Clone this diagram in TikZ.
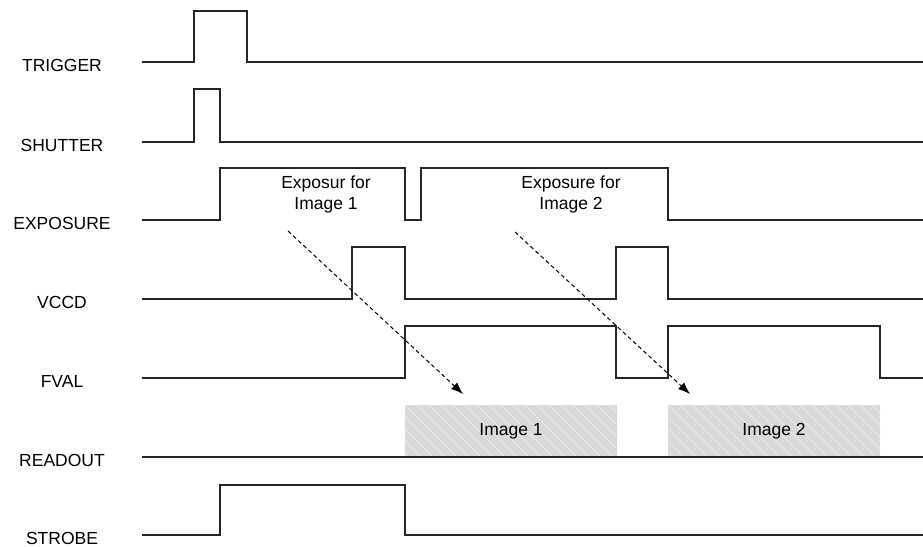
\documentclass[tikz,border=0pt]{standalone}
\usepackage{fontspec}
\setmainfont{Liberation Sans}
\usetikzlibrary{arrows.meta}
\definecolor{wave}{HTML}{262626}
\definecolor{boxfill}{HTML}{D9D9D9}
\definecolor{hatch}{HTML}{E9E9E9}
\begin{document}
\begin{tikzpicture}[x=1pt,y=-1pt,
  txt/.style={font=\fontsize{17.5}{21}\selectfont, text=black, inner sep=0pt},
  siglabel/.style={txt, anchor=base},
  wavepath/.style={draw=wave, line width=1.4pt, line join=miter},
  readbox/.style={fill=boxfill, draw=none},
  cause/.style={draw=black, line width=1pt, dash pattern=on 4pt off 3pt,
                -{Latex[length=12pt,width=9pt]}}]
\useasboundingbox (0,0) rectangle (923,546);

% signal names
\node[siglabel] (lTrig) at (62,71)  {TRIGGER};
\node[siglabel] (lShut) at (62,151) {SHUTTER};
\node[siglabel] (lExpo) at (62,229) {EXPOSURE};
\node[siglabel] (lVccd) at (62,308) {VCCD};
\node[siglabel] (lFval) at (62,387) {FVAL};
\node[siglabel] (lRead) at (62,466) {READOUT};
\node[siglabel] (lStrb) at (62,544) {STROBE};

% readout windows with faint hatching
\foreach \xa/\xb/\nm in {405/617/Image 1, 668/880/Image 2}{
  \fill[readbox] (\xa,405) rectangle (\xb,457);
  \begin{scope}
    \clip (\xa,405) rectangle (\xb,457);
    \foreach \k in {-60,-48,...,220}{
      \draw[hatch, line width=0.8pt] (\xa+\k,405) -- ++(52,52);
    }
  \end{scope}
}
\node[txt] (img1) at (511,431) {Image 1};
\node[txt] (img2) at (774,431) {Image 2};

% waveforms
\draw[wavepath] (142,62) -- (194,62) -- (194,11) -- (247,11) -- (247,62) -- (923,62);
\draw[wavepath] (142,142) -- (194,142) -- (194,89) -- (220,89) -- (220,142) -- (923,142);
\draw[wavepath] (142,220) -- (220,220) -- (220,168) -- (405,168) -- (405,220)
  -- (421,220) -- (421,168) -- (668,168) -- (668,220) -- (923,220);
\draw[wavepath] (142,299) -- (352,299) -- (352,247) -- (405,247) -- (405,299)
  -- (616,299) -- (616,247) -- (668,247) -- (668,299) -- (923,299);
\draw[wavepath] (142,378) -- (405,378) -- (405,326) -- (616,326) -- (616,378)
  -- (668,378) -- (668,326) -- (880,326) -- (880,378) -- (923,378);
\draw[wavepath] (142,457) -- (923,457);
\draw[wavepath] (142,535) -- (220,535) -- (220,485) -- (405,485) -- (405,535) -- (923,535);

% exposure notes
\node[txt, align=center] (exp1) at (326,194) {Exposur for\\Image 1};
\node[txt, align=center] (exp2) at (571,194) {Exposure for\\Image 2};

% exposure -> readout arrows
\coordinate (a1s) at (288,231);
\coordinate (a1e) at (463,394);
\coordinate (a2s) at (515,232);
\coordinate (a2e) at (690,394);
\draw[cause] (a1s) -- (a1e);
\draw[cause] (a2s) -- (a2e);
\end{tikzpicture}
\end{document}
